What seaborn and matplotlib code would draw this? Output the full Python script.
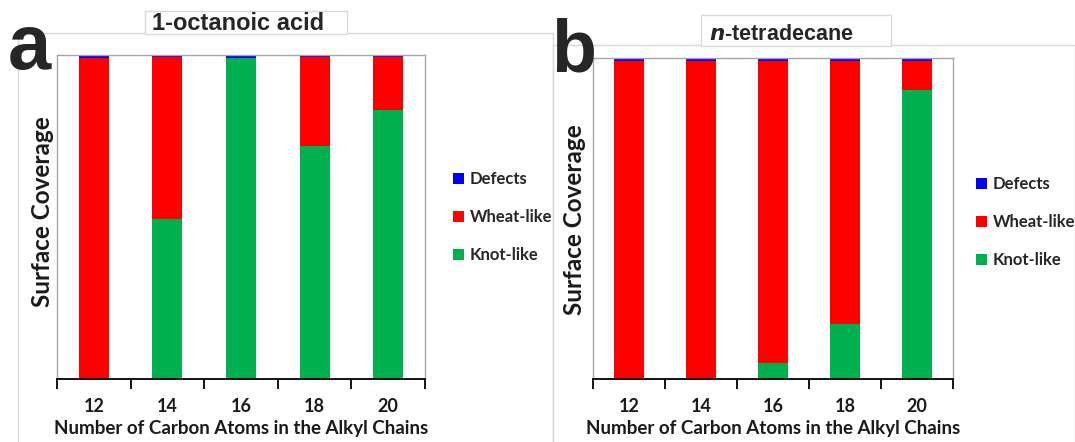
import matplotlib
matplotlib.use("Agg")
import matplotlib.pyplot as plt
from matplotlib.patches import Rectangle, Patch
import seaborn as sns
import pandas as pd

# Surface coverage (%) of each adlayer phase versus alkyl chain length
carbons = ["12", "14", "16", "18", "20"]

octanoic_knot = [0, 49.5, 99, 72, 83]
octanoic_wheat = [99, 50, 0, 27.5, 16.5]
octanoic_defects = [1, 0.5, 1, 0.5, 0.5]

tetradecane_knot = [0, 0, 5, 17, 90]
tetradecane_wheat = [99, 99, 94, 82, 9]
tetradecane_defects = [1, 1, 1, 1, 1]

titles = ["1-octanoic acid", r"$\bfit{n}$-tetradecane"]
letters = ["a", "b"]
xlabel = "Number of Carbon Atoms in the Alkyl Chains"
ylabel = "Surface Coverage"
series_names = ["Defects", "Wheat-like", "Knot-like"]
colors = {"Defects": "#0000ff", "Wheat-like": "#ff0000", "Knot-like": "#00b050"}

sns.set_theme(style="white")
plt.rcParams["font.family"] = ["Lato", "DejaVu Sans"]

W, H = 1075, 442
fig = plt.figure(figsize=(W / 100, H / 100), dpi=100)


def fx(px):
    return px / W


def fy(py):
    return 1 - py / H


# chart-area frames and title boxes
frame_col = "#d9d9d9"
for (x0, y0, x1) in [(18, 33, 553), (553, 45, 1075)]:
    fig.add_artist(Rectangle((fx(x0), fy(H + 5)), fx(x1 - x0), (H + 5 - y0) / H,
                             transform=fig.transFigure, facecolor="white",
                             edgecolor=frame_col, lw=1.0, zorder=0))
for (x0, y0, x1, y1) in [(145, 11, 347, 34), (701, 15, 891, 46)]:
    fig.add_artist(Rectangle((fx(x0), fy(y1)), fx(x1 - x0), (y1 - y0) / H,
                             transform=fig.transFigure, facecolor="white",
                             edgecolor=frame_col, lw=1.0, zorder=1))

panels = [
    dict(knot=octanoic_knot, wheat=octanoic_wheat, defects=octanoic_defects,
         box=(57, 55, 425, 379), title_xy=(238, 23), title_size=17,
         letter_xy=(29, 48), letter_size=56, ylab_xy=(43, 212), leg_xy=(453, 171)),
    dict(knot=tetradecane_knot, wheat=tetradecane_wheat, defects=tetradecane_defects,
         box=(593, 58, 953, 379), title_xy=(781, 34), title_size=15.5,
         letter_xy=(574, 52), letter_size=53, ylab_xy=(574, 220), leg_xy=(976, 176)),
]

for i, p in enumerate(panels):
    l, t, r, b = p["box"]
    ax = fig.add_axes([fx(l), fy(b), fx(r - l), (b - t) / H], zorder=2)
    df = pd.DataFrame({"carbons": carbons, "Knot-like": p["knot"],
                       "Wheat-like": p["wheat"], "Defects": p["defects"]})
    df["top_wheat"] = df["Knot-like"] + df["Wheat-like"]
    df["top_defects"] = df["top_wheat"] + df["Defects"]
    # stacked bars drawn as overlapping cumulative totals
    for col, name in [("top_defects", "Defects"), ("top_wheat", "Wheat-like"),
                      ("Knot-like", "Knot-like")]:
        sns.barplot(data=df, x="carbons", y=col, order=carbons, color=colors[name],
                    saturation=1, width=0.41, ax=ax, linewidth=0)
    ax.set_ylim(0, 100)
    ax.set_xlim(-0.5, 4.5)
    ax.set_yticks([])
    ax.set_xticks(range(5))
    ax.set_xticklabels(carbons, fontsize=13, fontweight="bold")
    ax.set_xticks([k - 0.5 for k in range(6)], minor=True)
    ax.tick_params(axis="x", which="major", length=0, pad=14, colors="#1a1a1a")
    ax.tick_params(axis="x", which="minor", length=7, width=1.3, color="black",
                   direction="out", bottom=True)
    for s in ["left", "top", "right"]:
        ax.spines[s].set_color("#a6a6a6")
        ax.spines[s].set_linewidth(1.0)
    ax.spines["bottom"].set_color("black")
    ax.spines["bottom"].set_linewidth(1.3)
    ax.set_xlabel(xlabel, fontsize=13.5, fontweight="bold", labelpad=3, color="#1a1a1a")
    ax.set_ylabel("")
    fig.text(fx(p["ylab_xy"][0]), fy(p["ylab_xy"][1]), ylabel, rotation=90, fontsize=17.5,
             fontweight="bold", ha="center", va="center", color="#1a1a1a")
    fig.text(fx(p["title_xy"][0]), fy(p["title_xy"][1]), titles[i],
             family=["Liberation Sans"], fontsize=p["title_size"], fontweight="bold",
             ha="center", va="center", zorder=5)
    fig.text(fx(p["letter_xy"][0]), fy(p["letter_xy"][1]), letters[i],
             family=["Liberation Sans"], fontsize=p["letter_size"], fontweight="bold",
             ha="center", va="center", zorder=5)
    handles = [Patch(facecolor=colors[n], edgecolor="none") for n in series_names]
    fig.legend(handles, series_names, loc="upper left",
               bbox_to_anchor=(fx(p["leg_xy"][0]), fy(p["leg_xy"][1])),
               frameon=False, borderpad=0, borderaxespad=0,
               handlelength=0.65, handleheight=0.65, handletextpad=0.35,
               labelspacing=1.32, prop=dict(weight="bold", size=12))

fig.savefig("out.png", dpi=100)
